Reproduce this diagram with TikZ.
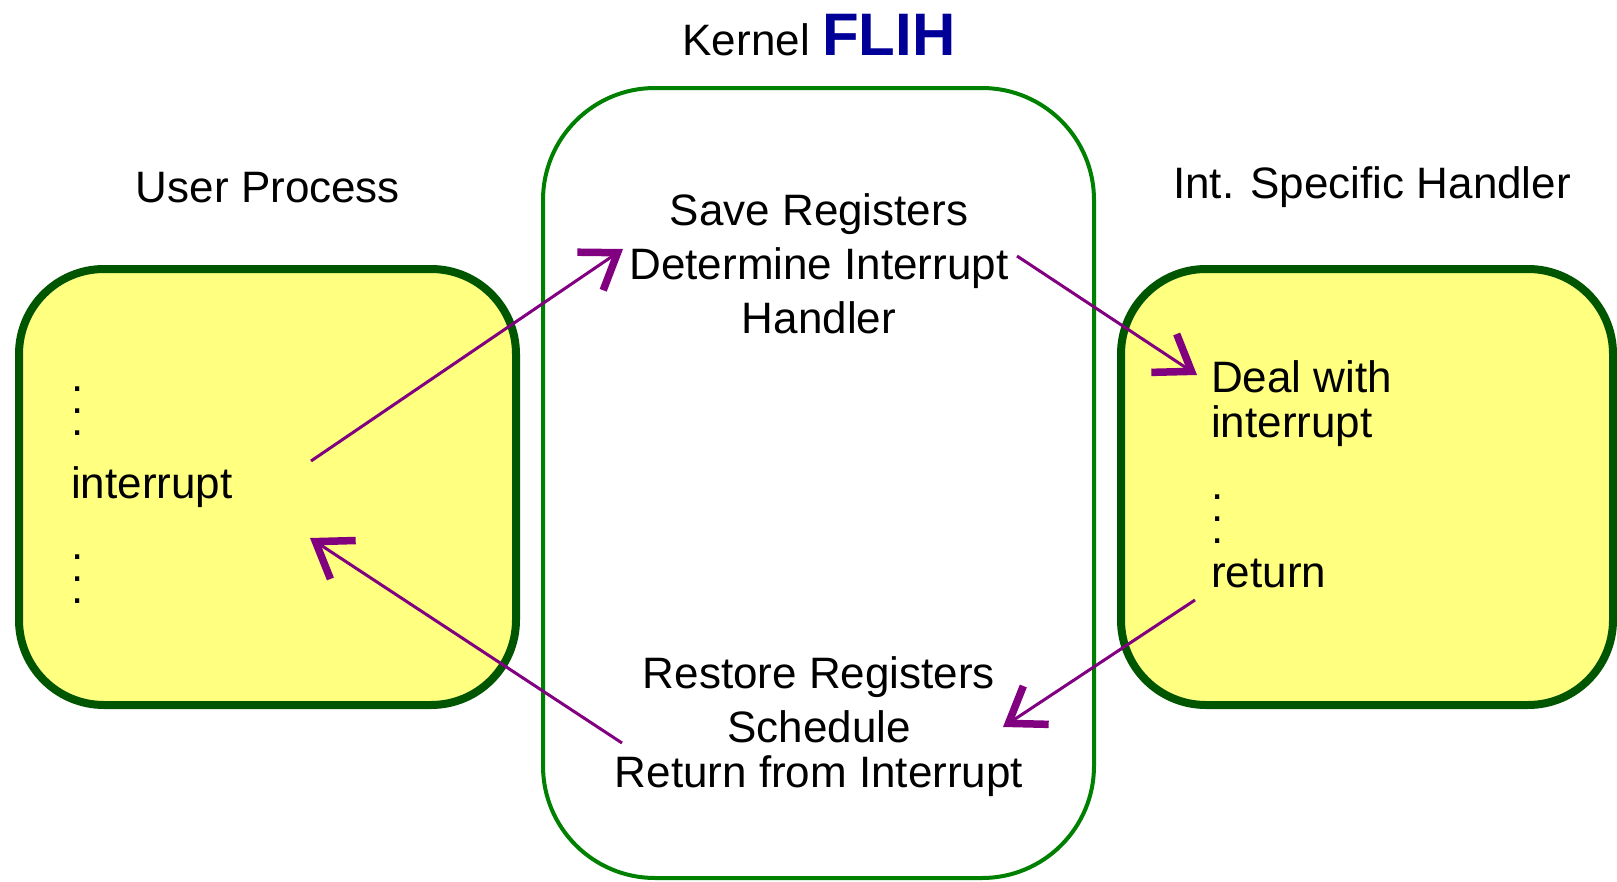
\documentclass[tikz,border=0pt]{standalone}
\usepackage{fontspec}
\setmainfont{Liberation Sans}
\usetikzlibrary{arrows.meta}
\definecolor{boxyellow}{RGB}{255,255,128}
\definecolor{boxgreen}{RGB}{0,85,0}
\definecolor{kernelgreen}{RGB}{0,128,0}
\definecolor{flihblue}{RGB}{0,0,153}
\definecolor{arrowpurple}{RGB}{128,0,128}

\begin{document}
\begin{tikzpicture}[x=1pt, y=-1pt,
        procbox/.style={draw=boxgreen, fill=boxyellow, line width=8pt, rounded corners=85pt, minimum height=436pt},
        txt/.style={font=\fontsize{44}{54}\selectfont, inner sep=0pt, anchor=base},
        dotted text/.style={txt, align=left, anchor=base west, font={\fontsize{44}{22}\selectfont\lineskiplimit=-100pt}},
        flowarrow/.style={draw=arrowpurple, line width=3pt, -{Straight Barb[sharp, length=33pt, width=46pt, line width=7.5pt 0]}}]

        \useasboundingbox (0,0) rectangle (1617,881);

        % Boxes
        \node[procbox, minimum width=497pt] (user) at (267.5,487) {};
        \node[procbox, minimum width=492pt] (handler) at (1367,487) {};
        \node[draw=kernelgreen, line width=4pt, rounded corners=112pt, minimum width=551pt, minimum height=790pt] (kernel) at (818.5,483) {};

        % Headings
        \node[txt] (usertitle) at (268,202) {User Process};
        \node[txt] (handlertitle) at (1372,198) {Int. Specific Handler};
        \node[txt] (kerneltitle) at (819,55) {Kernel {\fontsize{60}{72}\selectfont\bfseries\color{flihblue}FLIH}};

        % Text in the kernel (placed at the baseline of the last line)
        \node[txt, align=center] (save) at (819,333) {Save Registers\\Determine Interrupt\\Handler};
        \node[txt, align=center] (restore) at (819,787) {Restore Registers\\Schedule\\[-9pt]Return from Interrupt};

        % Text in the process boxes
        \node[dotted text] (userbody) at (71,603) {.\\.\\.\\[41pt]interrupt\\[39pt].\\.\\.};
        \node[dotted text] (handlerbody) at (1211,587) {Deal with\\[23pt]interrupt\\[40pt].\\.\\.\\[22pt]return};

        % Ends of the arrows
        \coordinate (intout) at (311,461);
        \coordinate (flihin) at (623,249);
        \coordinate (flihout) at (1017,256);
        \coordinate (dealin) at (1197,375);
        \coordinate (retout) at (1195,600);
        \coordinate (schedin) at (1003,727);
        \coordinate (schedout) at (622,743);
        \coordinate (intin) at (310,538);

        % Arrows
        \draw[flowarrow] (intout) -- (flihin);
        \draw[flowarrow] (flihout) -- (dealin);
        \draw[flowarrow] (retout) -- (schedin);
        \draw[flowarrow] (schedout) -- (intin);

    \end{tikzpicture}
\end{document}
